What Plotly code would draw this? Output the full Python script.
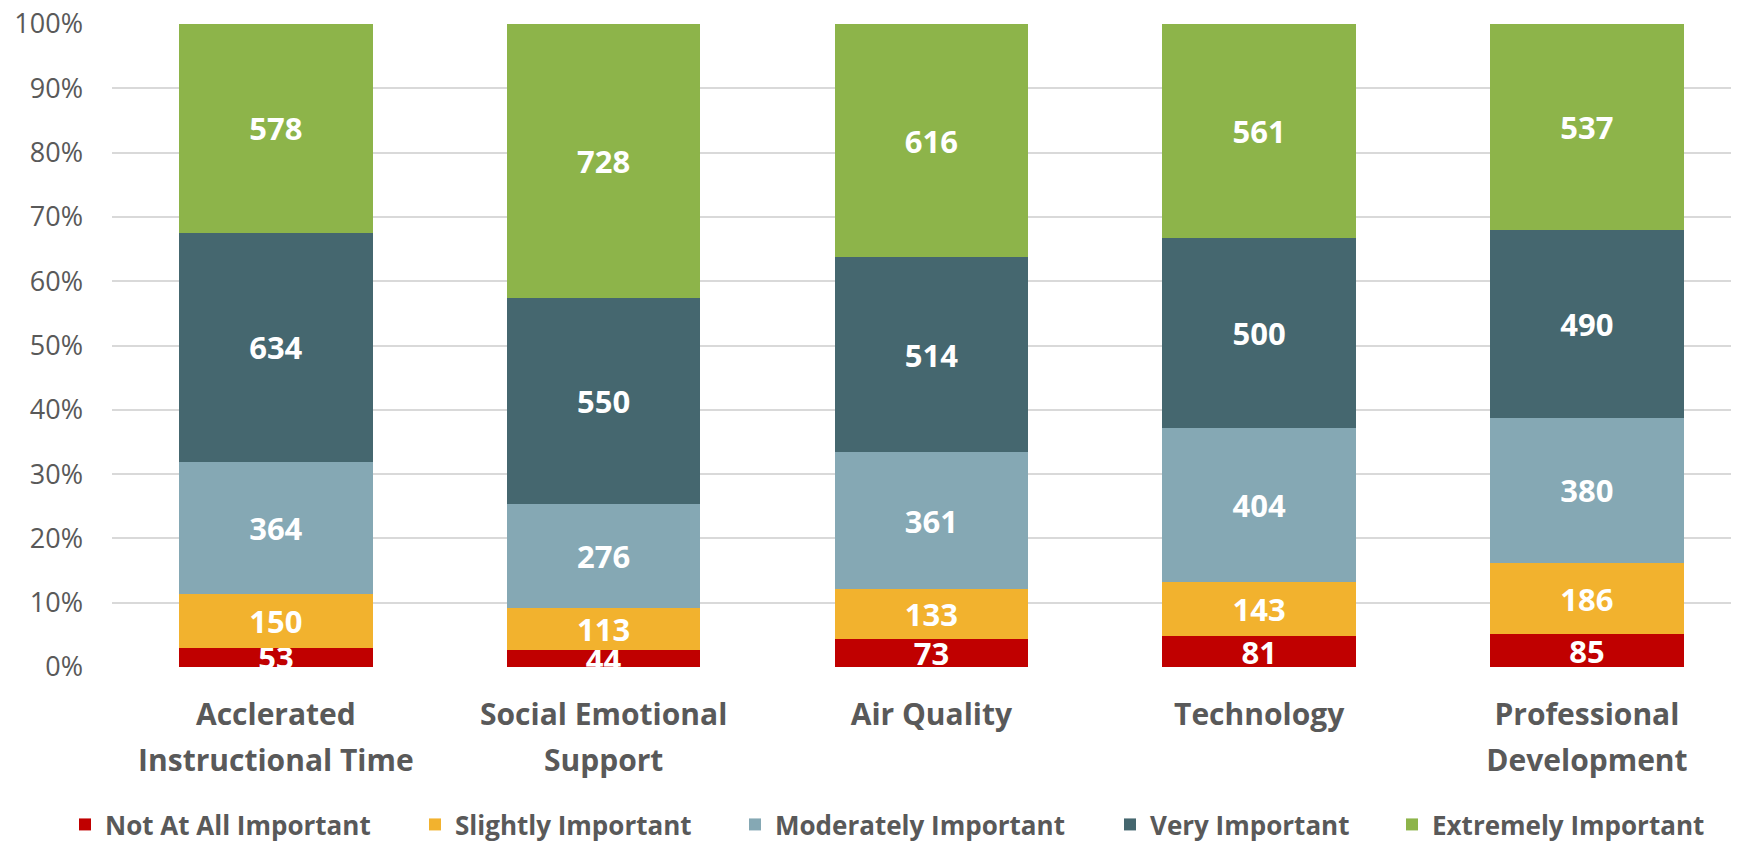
import plotly.graph_objects as go

categories = ["Acclerated<br>Instructional Time", "Social Emotional<br>Support", "Air Quality",
              "Technology", "Professional<br>Development"]
series_names = ["Not At All Important", "Slightly Important", "Moderately Important",
                "Very Important", "Extremely Important"]
not_at_all = [53, 44, 73, 81, 85]
slightly = [150, 113, 133, 143, 186]
moderately = [364, 276, 361, 404, 380]
very = [634, 550, 514, 500, 490]
extremely = [578, 728, 616, 561, 537]
colors = ["#C00000", "#F2B22E", "#85A8B4", "#45676F", "#8DB44A"]
y_ticks = list(range(0, 101, 10))

FONT = "Open Sans"
GREY = "#595959"
# page body has an 8px margin, so the figure is 8px smaller than the window
W, H = 1731, 834
L, R, T, B = 104, 0, 16, 175
plot_w = W - L - R

# legend marker left edges (window pixels)
legend_px = [79, 429, 749, 1124, 1406]

xs = list(range(len(categories)))
line1 = [c.split("<br>")[0] for c in categories]
line2 = [c.split("<br>")[1] if "<br>" in c else "" for c in categories]

fig = go.Figure()
for i, (name, vals, col) in enumerate(zip(series_names, [not_at_all, slightly, moderately, very, extremely], colors)):
    lg = "legend" if i == 0 else f"legend{i+1}"
    fig.add_trace(go.Bar(
        x=xs, y=vals, name=name, legend=lg,
        marker=dict(color=col, line=dict(width=0)),
        text=[str(v) for v in vals], textposition="inside", insidetextanchor="middle",
        textangle=0, constraintext="none", cliponaxis=True,
        textfont=dict(family=FONT, size=31, color="white", weight="bold"),
        width=0.59,
    ))
# empty trace so the second-line category axis is drawn
fig.add_trace(go.Scatter(x=[None], y=[None], xaxis="x2", yaxis="y", showlegend=False,
                         hoverinfo="skip", mode="markers"))

legend_font = dict(family=FONT, size=26, color=GREY, weight="bold")
legends = {}
for i, px in enumerate(legend_px):
    key = "legend" if i == 0 else f"legend{i+1}"
    legends[key] = dict(orientation="h", x=(px - 8 - 14 - L) / plot_w, xref="paper", xanchor="left",
                        y=-0.245, yanchor="middle", font=legend_font, itemwidth=30,
                        bgcolor="rgba(0,0,0,0)")

fig.update_layout(
    barmode="stack", barnorm="percent",
    width=W, height=H,
    margin=dict(l=L, r=R, t=T, b=B, autoexpand=False),
    paper_bgcolor="white", plot_bgcolor="white",
    uniformtext=dict(minsize=31, mode="show"),
    font=dict(family=FONT, color=GREY),
    showlegend=True,
    **legends,
)
cat_font = dict(family=FONT, size=30, color=GREY, weight="bold")
fig.update_layout(
    xaxis=dict(tickmode="array", tickvals=xs, ticktext=line1,
               range=[-0.5, 4.464], showgrid=False, zeroline=False, showline=False, ticks="",
               tickfont=cat_font, ticklabelstandoff=27),
    xaxis2=dict(tickmode="array", tickvals=xs, ticktext=line2, overlaying="x",
                range=[-0.5, 4.464], anchor="y", side="bottom", showgrid=False, zeroline=False,
                showline=False, ticks="", tickfont=cat_font, ticklabelstandoff=73,
                showticklabels=True),
    yaxis=dict(range=[0, 100], tickmode="array", tickvals=y_ticks, ticktext=[f"{v}%" for v in y_ticks],
               showgrid=True, gridcolor="#D9D9D9", gridwidth=1.5, zeroline=False, showline=False,
               tickfont=dict(family=FONT, size=27, color=GREY), ticks="", ticklabelstandoff=28,
               ticklabeloverflow="allow"),
)
fig.write_html("out.html")
